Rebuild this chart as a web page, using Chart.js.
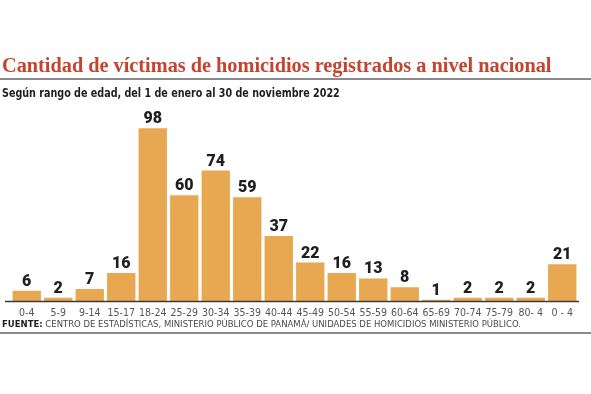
<!DOCTYPE html>
<html>
<head>
<meta charset="utf-8">
<script src="https://cdn.jsdelivr.net/npm/chart.js@4"></script>
<style>
    html, body { margin: 0; padding: 0; background: #fff; }
    #wrap { position: relative; width: 591px; height: 394px; overflow: hidden; }
    #titulo {
        position: absolute; left: 2px; top: 54px; margin: 0;
        font: bold 20.3px "Liberation Serif", serif; color: #c3442f; white-space: nowrap;
    }
    #linea1 { position: absolute; left: 0; top: 78px; width: 591px; height: 2px; background: #8a8a8a; }
    #subtitulo {
        position: absolute; left: 2px; top: 85px; margin: 0;
        font: bold 13px "DejaVu Sans Condensed", sans-serif; color: #1e1e1e; white-space: nowrap;
        transform: scaleX(0.82); transform-origin: left top;
    }
    #fuente {
        position: absolute; left: 2px; top: 319px; margin: 0;
        font: 8.5px "DejaVu Sans", sans-serif; color: #4a4a4a; white-space: nowrap;
    }
    #fuente b { color: #1e1e1e; }
    #linea2 { position: absolute; left: 0; top: 332px; width: 591px; height: 2px; background: #8a8a8a; }
    #grafico { position: absolute; left: 0; top: 0; }
</style>
</head>
<body>
<div id="wrap">
    <canvas id="grafico" width="591" height="394"></canvas>
    <h1 id="titulo">Cantidad de víctimas de homicidios registrados a nivel nacional</h1>
    <div id="linea1"></div>
    <p id="subtitulo">Según rango de edad, del 1 de enero al 30 de noviembre 2022</p>
    <p id="fuente"><b>FUENTE:</b> CENTRO DE ESTADÍSTICAS, MINISTERIO PÚBLICO DE PANAMÁ/ UNIDADES DE HOMICIDIOS MINISTERIO PÚBLICO.</p>
    <div id="linea2"></div>
</div>
<script>
// rangos de edad
const rangosEdad = ['0-4', '5-9', '9-14', '15-17', '18-24', '25-29', '30-34', '35-39', '40-44',
    '45-49', '50-54', '55-59', '60-64', '65-69', '70-74', '75-79', '80- 4', '0 - 4'];
// victimas por rango
const victimas = [6, 2, 7, 16, 98, 60, 74, 59, 37, 22, 16, 13, 8, 1, 2, 2, 2, 21];

// numeros encima de cada barra + linea base
const etiquetasValor = {
    id: 'etiquetasValor',
    afterDatasetsDraw(chart) {
        const { ctx, chartArea, scales } = chart;
        ctx.save();
        const yBase = scales.y.getPixelForValue(0);
        ctx.strokeStyle = '#3a3a3a';
        ctx.lineWidth = 1.5;
        ctx.beginPath();
        ctx.moveTo(chartArea.left - 6, yBase);
        ctx.lineTo(chartArea.right + 1, yBase);
        ctx.stroke();

        ctx.font = '900 16px Roboto, sans-serif';
        ctx.fillStyle = '#1f1f1f';
        ctx.textAlign = 'center';
        ctx.textBaseline = 'alphabetic';
        const meta = chart.getDatasetMeta(0);
        meta.data.forEach((bar, i) => {
            ctx.fillText(String(victimas[i]), bar.x, bar.y - 5);
        });
        ctx.restore();
    }
};

new Chart(document.getElementById('grafico'), {
    type: 'bar',
    data: {
        labels: rangosEdad,
        datasets: [{
            data: victimas,
            backgroundColor: '#e8a852',
            borderWidth: 0,
            barPercentage: 0.9,
            categoryPercentage: 1
        }]
    },
    options: {
        responsive: false,
        animation: false,
        layout: { padding: { left: 11, right: 13, top: 107, bottom: 68 } },
        plugins: { legend: { display: false }, tooltip: { enabled: false } },
        scales: {
            x: {
                grid: { display: false, drawTicks: false },
                border: { display: false },
                ticks: { color: '#555', padding: 6, font: { size: 10.5, family: 'DejaVu Sans Condensed, sans-serif' }, autoSkip: false, maxRotation: 0 }
            },
            y: {
                display: false,
                min: 0,
                max: 110
            }
        }
    },
    plugins: [etiquetasValor]
});
</script>
</body>
</html>
